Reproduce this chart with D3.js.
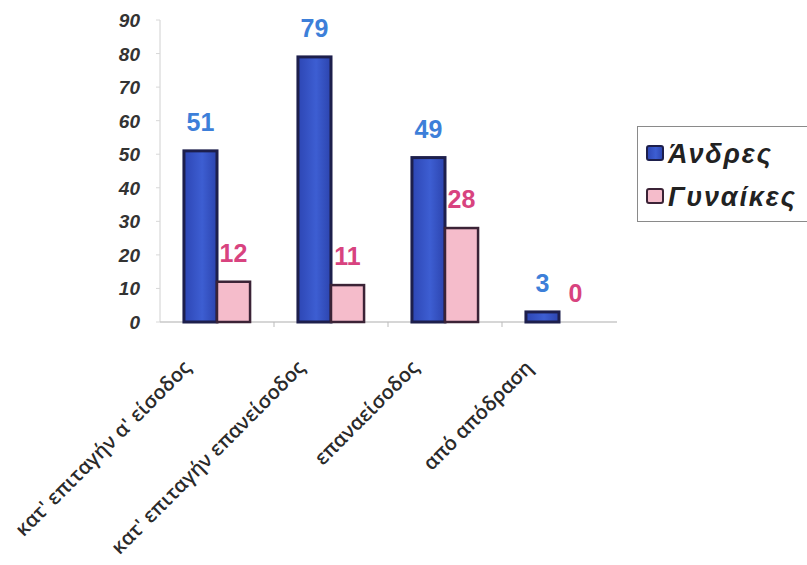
<!DOCTYPE html>
<html>
<head>
<meta charset="utf-8">
<script src="https://cdn.jsdelivr.net/npm/d3@7/dist/d3.min.js"></script>
<style>
  body { margin: 0; background: #fff; }
  svg { display: block; }
</style>
</head>
<body>
<svg width="807" height="565"></svg>
<script>
// data
var categories = ["κατ' επιταγήν α' είσοδος", "κατ' επιταγήν επανείσοδος", "επαναείσοδος", "από απόδραση"];
var series = ["Άνδρες", "Γυναίκες"];
var men = [51, 79, 49, 3];
var women = [12, 11, 28, 0];
var yTicks = [0, 10, 20, 30, 40, 50, 60, 70, 80, 90];

var fills = ["#3450c2", "#f5bccb"],
    strokes = ["#1d1f4c", "#3b2336"],
    labelColors = ["#3d7fd9", "#d8437f"];

var svg = d3.select("svg");

var defs = svg.append("defs");
var grad = defs.append("linearGradient").attr("id", "blueGrad").attr("x1", 0).attr("x2", 1).attr("y1", 0).attr("y2", 0);
grad.append("stop").attr("offset", "0%").attr("stop-color", "#2d46b4");
grad.append("stop").attr("offset", "55%").attr("stop-color", "#3d5ed2");
grad.append("stop").attr("offset", "100%").attr("stop-color", "#2c44ae");

var x = d3.scaleBand().domain(categories).range([160, 616]).paddingInner(0.42).paddingOuter(0.21);
var xs = d3.scaleBand().domain(series).range([0, x.bandwidth()]);
var y = d3.scaleLinear().domain([0, 90]).range([322, 20]);

var rows = categories.map(function(c, i) {
  return { cat: c, values: [men[i], women[i]] };
});

// axes
svg.append("line")
    .attr("x1", 160).attr("x2", 160)
    .attr("y1", y(90)).attr("y2", y(0))
    .attr("stroke", "#d0d0d0").attr("stroke-width", 1);
svg.append("line")
    .attr("x1", 160).attr("x2", 617)
    .attr("y1", y(0)).attr("y2", y(0))
    .attr("stroke", "#c8c8c8").attr("stroke-width", 1.5);

svg.selectAll(".ytick")
    .data(yTicks)
  .enter().append("line")
    .attr("x1", 156).attr("x2", 160)
    .attr("y1", function(d) { return y(d); }).attr("y2", function(d) { return y(d); })
    .attr("stroke", "#d8d8d8");

svg.selectAll(".ylabel")
    .data(yTicks)
  .enter().append("text")
    .attr("x", 140)
    .attr("y", function(d) { return y(d) + 7; })
    .attr("text-anchor", "end")
    .style("font", "italic bold 19px 'Liberation Sans', Arial, sans-serif")
    .style("fill", "#333")
    .text(function(d) { return d; });

// ticks between categories
svg.selectAll(".xtick")
    .data(categories.slice(1))
  .enter().append("line")
    .attr("x1", function(d) { return x(d) - x.step() * x.paddingInner() / 2; })
    .attr("x2", function(d) { return x(d) - x.step() * x.paddingInner() / 2; })
    .attr("y1", y(0)).attr("y2", y(0) + 5)
    .attr("stroke", "#bbb");

// bars
var g = svg.selectAll(".grp")
    .data(rows)
  .enter().append("g")
    .attr("transform", function(d) { return "translate(" + x(d.cat) + ",0)"; });

g.selectAll("rect")
    .data(function(d) { return d.values.map(function(v, i) { return { s: series[i], v: v, i: i }; }); })
  .enter().filter(function(d) { return d.v > 0; }).append("rect")
    .attr("x", function(d) { return xs(d.s); })
    .attr("y", function(d) { return y(d.v); })
    .attr("width", xs.bandwidth())
    .attr("height", function(d) { return y(0) - y(d.v); })
    .attr("fill", function(d) { return d.i === 0 ? "url(#blueGrad)" : fills[1]; })
    .attr("stroke", function(d) { return strokes[d.i]; })
    .attr("stroke-width", function(d) { return d.i === 0 ? 3 : 2.5; });

g.selectAll("text")
    .data(function(d) { return d.values.map(function(v, i) { return { s: series[i], v: v, i: i }; }); })
  .enter().append("text")
    .attr("x", function(d) { return xs(d.s) + xs.bandwidth() / 2; })
    .attr("y", function(d) { return y(d.v) - 20; })
    .attr("text-anchor", "middle")
    .style("font", "bold 25px 'Liberation Sans', Arial, sans-serif")
    .style("fill", function(d) { return labelColors[d.i]; })
    .text(function(d) { return d.v; });

// category labels
svg.selectAll(".xlabel")
    .data(categories)
  .enter().append("text")
    .attr("transform", function(d) {
      return "translate(" + (x(d) + x.bandwidth() / 2 - 25) + ",369) rotate(-45)";
    })
    .attr("text-anchor", "end")
    .style("font", "600 20px 'Open Sans', sans-serif")
    .style("fill", "#2a2a2a")
    .text(function(d) { return d; });

// legend
var legend = svg.append("g").attr("transform", "translate(637,126)");
legend.append("rect")
    .attr("x", 0.5).attr("y", 0.5)
    .attr("width", 180).attr("height", 95)
    .attr("fill", "#fff").attr("stroke", "#8a8a8a");

var items = legend.selectAll(".item")
    .data(series)
  .enter().append("g")
    .attr("transform", function(d, i) { return "translate(10," + (20 + i * 43) + ")"; });

items.append("rect")
    .attr("width", 16).attr("height", 14)
    .attr("rx", 2)
    .attr("fill", function(d, i) { return i === 0 ? "url(#blueGrad)" : fills[1]; })
    .attr("stroke", function(d, i) { return strokes[i]; })
    .attr("stroke-width", 2);

items.append("text")
    .attr("x", 21).attr("y", 17)
    .style("font", "italic bold 27px 'Liberation Sans', Arial, sans-serif")
    .style("letter-spacing", "1.8px")
    .style("fill", "#222")
    .text(function(d) { return d; });
</script>
</body>
</html>
